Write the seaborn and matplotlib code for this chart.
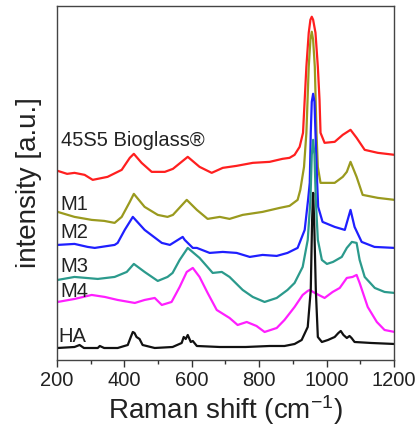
import pandas as pd
import matplotlib
matplotlib.use("Agg")
import matplotlib.pyplot as plt
from matplotlib.ticker import MultipleLocator
import seaborn as sns

# Raman spectra (offset, arbitrary units)
samples = ["45S5 Bioglass®", "M1", "M2", "M3", "M4", "HA"]
colors = ["#ff1f1f", "#9a9a1e", "#1f1fff", "#2b9a8c", "#ff1fff", "#111111"]

wn_45s5 = [202, 230, 252, 282, 306, 350, 392, 416, 428, 451, 481, 520, 544, 588, 623, 659, 692, 733,
           781, 831, 869, 890, 905, 920, 930, 935, 940, 947, 952, 956, 960, 967, 974, 979, 982, 994,
           1024, 1048, 1071, 1089, 1113, 1152, 1202]
int_45s5 = [189, 186, 187, 185, 180, 183, 190, 202, 206, 197, 188, 188, 191, 203, 193, 187, 192, 194,
            197, 198, 201, 202, 205, 213, 227, 260, 293, 327, 340, 343, 340, 327, 293, 260, 227, 217,
            218, 225, 230, 222, 210, 207, 205]

wn_m1 = [202, 252, 303, 340, 371, 392, 416, 428, 460, 499, 528, 544, 585, 615, 647, 683, 712, 751,
         810, 861, 890, 914, 922, 933, 940, 947, 952, 956, 960, 965, 970, 974, 982, 1003, 1024, 1048,
         1060, 1071, 1089, 1107, 1152, 1202]
int_m1 = [148, 143, 140, 139, 137, 143, 158, 166, 153, 145, 143, 145, 160, 150, 141, 143, 141, 145,
          148, 152, 154, 160, 170, 193, 227, 293, 320, 328, 320, 293, 227, 193, 177, 177, 177, 183,
          188, 198, 183, 165, 162, 160]

wn_m2 = [202, 252, 291, 312, 371, 380, 401, 425, 460, 511, 535, 573, 579, 603, 615, 653, 692, 733,
         772, 810, 852, 884, 914, 935, 945, 950, 953, 956, 960, 964, 967, 972, 975, 988, 1024, 1054,
         1071, 1083, 1104, 1142, 1202]
int_m2 = [115, 116, 113, 112, 115, 117, 130, 143, 130, 117, 115, 123, 120, 112, 112, 107, 108, 107,
          103, 105, 104, 107, 112, 130, 160, 177, 227, 258, 266, 258, 227, 177, 153, 138, 133, 130,
          150, 133, 118, 113, 112]

wn_m3 = [202, 252, 321, 371, 407, 428, 460, 499, 528, 543, 564, 588, 623, 662, 689, 712, 751, 781,
         816, 852, 884, 905, 929, 944, 952, 956, 960, 964, 968, 974, 986, 1001, 1019, 1045, 1060,
         1075, 1089, 1098, 1113, 1143, 1172, 1202]
int_m3 = [80, 83, 81, 83, 88, 96, 88, 79, 83, 87, 100, 112, 102, 87, 88, 83, 70, 63,
          58, 62, 70, 77, 93, 120, 160, 205, 220, 205, 160, 120, 100, 96, 98, 103, 112,
          118, 117, 100, 83, 72, 68, 67]

wn_m4 = [202, 252, 303, 342, 380, 431, 460, 490, 511, 540, 564, 585, 603, 623, 647, 674, 712, 736,
         763, 792, 816, 852, 875, 905, 929, 944, 950, 965, 994, 1018, 1039, 1060, 1077, 1089, 1098,
         1122, 1149, 1172, 1202]
int_m4 = [58, 61, 65, 63, 60, 57, 60, 62, 55, 58, 73, 88, 92, 83, 67, 50, 42, 35,
          38, 34, 28, 32, 40, 53, 65, 69, 70, 67, 62, 68, 72, 82, 83, 85, 77,
          53, 38, 30, 28]

wn_ha = [202, 252, 267, 280, 321, 327, 340, 380, 410, 419, 425, 430, 436, 445, 454, 490, 543, 570,
         576, 582, 588, 597, 603, 615, 683, 760, 831, 875, 905, 926, 944, 953, 957, 960, 963, 968,
         974, 986, 1004, 1024, 1035, 1042, 1050, 1060, 1068, 1074, 1083, 1133, 1202]
int_ha = [12, 13, 15, 12, 12, 14, 12, 12, 15, 23, 28, 27, 23, 21, 15, 12, 13, 17,
          23, 21, 25, 18, 19, 14, 13, 13, 14, 14, 16, 20, 33, 70, 140, 167, 140, 70,
          23, 18, 20, 23, 27, 29, 25, 22, 24, 22, 18, 17, 16]

# label anchor (x, baseline y) for each spectrum
label_x = [211, 211, 211, 211, 211, 203]
label_y = [214, 150, 122, 88, 63, 18]

spectra = [(wn_45s5, int_45s5), (wn_m1, int_m1), (wn_m2, int_m2),
           (wn_m3, int_m3), (wn_m4, int_m4), (wn_ha, int_ha)]
frames = []
for name, (wn, inten) in zip(samples, spectra):
    frames.append(pd.DataFrame({"wavenumber": wn, "intensity": inten, "sample": name}))
df = pd.concat(frames, ignore_index=True)

sns.set_theme(style="ticks")
plt.rcParams["font.family"] = ["Liberation Sans", "DejaVu Sans"]
plt.rcParams["mathtext.fontset"] = "custom"
plt.rcParams["mathtext.rm"] = "Liberation Sans"
plt.rcParams["mathtext.default"] = "regular"

fig = plt.figure(figsize=(4.2, 4.34), dpi=100)
ax = fig.add_axes([0.1357, 0.1705, 0.8024, 0.8163])

sns.lineplot(data=df, x="wavenumber", y="intensity", hue="sample",
             palette=dict(zip(samples, colors)), hue_order=samples,
             sort=False, estimator=None, legend=False, linewidth=1.6, ax=ax)

for name, lx, ly in zip(samples, label_x, label_y):
    ax.text(lx, ly, name, fontsize=14.5, color="#222222", ha="left", va="baseline")

ax.set_xlim(200, 1200)
ax.set_ylim(0, 354)
ax.xaxis.set_major_locator(MultipleLocator(200))
ax.xaxis.set_minor_locator(MultipleLocator(100))
ax.set_yticks([])
ax.tick_params(axis="x", which="major", direction="out", length=5, width=1,
               labelsize=14.5, color="#333333", labelcolor="#222222", pad=3)
ax.tick_params(axis="x", which="minor", direction="out", length=3, width=1, color="#333333")
for sp in ax.spines.values():
    sp.set_color("#444444")
    sp.set_linewidth(1.0)

ax.set_xlabel("Raman shift (cm$^{\\mathrm{-1}}$)", fontsize=20, color="#222222", labelpad=2)
ax.set_ylabel("intensity [a.u.]", fontsize=20, color="#222222", labelpad=11)

fig.savefig("out.png", dpi=100)
